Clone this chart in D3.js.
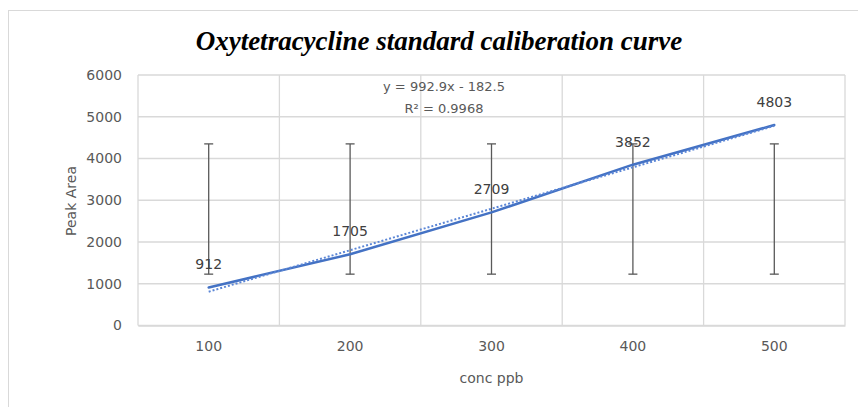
<!DOCTYPE html>
<html><head><meta charset="utf-8">
<script src="https://cdn.jsdelivr.net/npm/d3@7"></script>
<style>body{margin:0;background:#fff;} svg{display:block;}</style>
</head><body>
<svg id="c" width="858" height="407"></svg>
<script>
const categories = ["100","200","300","400","500"];
const peakArea = [912, 1705, 2709, 3852, 4803];
const errorTop = [4350, 4350, 4350, 4350, 4350];
const errorBottom = [1230, 1230, 1230, 1230, 1230];
const trendSlope = 992.9, trendIntercept = -182.5;
const yTicks = [0, 1000, 2000, 3000, 4000, 5000, 6000];
const title = "Oxytetracycline standard caliberation curve";
const eqText = ["y = 992.9x - 182.5", "R² = 0.9968"];

const svg = d3.select("#c");
const m = {l:138, r:845, t:75, b:325.5};
const font = "'DejaVu Sans', sans-serif";
const txt = "#595959";

svg.append("rect").attr("x",8.5).attr("y",10.5).attr("width",880).attr("height",420)
  .attr("fill","#fff").attr("stroke","#d9d9d9");

const x = d3.scaleBand().domain(categories).range([m.l, m.r]);
const y = d3.scaleLinear().domain([0, 6000]).range([m.b, m.t]);
const cx = d => x(d) + x.bandwidth()/2;

// grid
const g = svg.append("g");
g.selectAll(".hg").data(yTicks).join("line")
  .attr("x1", m.l).attr("x2", m.r).attr("y1", d=>y(d)).attr("y2", d=>y(d))
  .attr("stroke", "#d9d9d9").attr("stroke-width", 1.3);
const bounds = categories.map(c => x(c)).concat([m.r]);
g.selectAll(".vg").data(bounds).join("line")
  .attr("x1", d=>d).attr("x2", d=>d).attr("y1", m.t).attr("y2", m.b)
  .attr("stroke", "#d9d9d9").attr("stroke-width", 1.3);

// axes
const ya = d3.axisLeft(y).tickValues(yTicks).tickFormat(d3.format("d")).tickSize(0).tickPadding(16);
const yg = svg.append("g").attr("transform",`translate(${m.l},0)`).call(ya);
yg.select(".domain").remove();
yg.selectAll("text").attr("font-family", font).attr("font-size", 14).attr("fill", txt);

const xa = d3.axisBottom(x).tickSize(0).tickPadding(16);
const xg = svg.append("g").attr("transform",`translate(0,${m.b})`).call(xa);
xg.select(".domain").attr("stroke","#d9d9d9").attr("stroke-width",1.3);
xg.selectAll("text").attr("font-family", font).attr("font-size", 14).attr("fill", txt);

// error bars
const eb = svg.append("g").attr("stroke", "#595959").attr("stroke-width", 1.3);
categories.forEach((c,i) => {
  eb.append("line").attr("x1",cx(c)).attr("x2",cx(c)).attr("y1",y(errorTop[i])).attr("y2",y(errorBottom[i]));
  [errorTop[i], errorBottom[i]].forEach(v => eb.append("line")
    .attr("x1",cx(c)-4.5).attr("x2",cx(c)+4.5).attr("y1",y(v)).attr("y2",y(v)));
});

// data line
const line = d3.line().x(d=>cx(d.c)).y(d=>y(d.v));
const pts = categories.map((c,i)=>({c, v: peakArea[i]}));
svg.append("path").attr("d", line(pts)).attr("fill","none")
  .attr("stroke","#4472C4").attr("stroke-width",2.5).attr("stroke-linecap","round");

// trendline
const tpts = categories.map((c,i)=>({c, v: trendSlope*(i+1)+trendIntercept}));
svg.append("path").attr("d", line(tpts)).attr("fill","none")
  .attr("stroke","#5b86d6").attr("stroke-width",2).attr("stroke-dasharray","2,2");

// data labels
svg.append("g").selectAll("text").data(pts).join("text")
  .attr("x", d=>cx(d.c)).attr("y", d=>y(d.v)-18)
  .attr("text-anchor","middle").attr("font-family",font).attr("font-size",14).attr("fill","#404040")
  .text(d=>d.v);

// equation
eqText.forEach((t,i)=> svg.append("text").attr("x",444).attr("y",91+i*22)
  .attr("text-anchor","middle").attr("font-family",font).attr("font-size",13).attr("fill",txt).text(t));

// title
svg.append("text").attr("x",439).attr("y",50).attr("text-anchor","middle")
  .attr("font-family","'Liberation Serif', serif").attr("font-style","italic").attr("font-weight","bold")
  .attr("font-size",27).attr("fill","#000").text(title);

// axis titles
svg.append("text").attr("transform",`translate(76,201) rotate(-90)`).attr("text-anchor","middle")
  .attr("font-family",font).attr("font-size",14).attr("fill",txt).text("Peak Area");
svg.append("text").attr("x",(m.l+m.r)/2).attr("y",383).attr("text-anchor","middle")
  .attr("font-family",font).attr("font-size",14).attr("fill",txt).text("conc ppb");
</script>
</body></html>
